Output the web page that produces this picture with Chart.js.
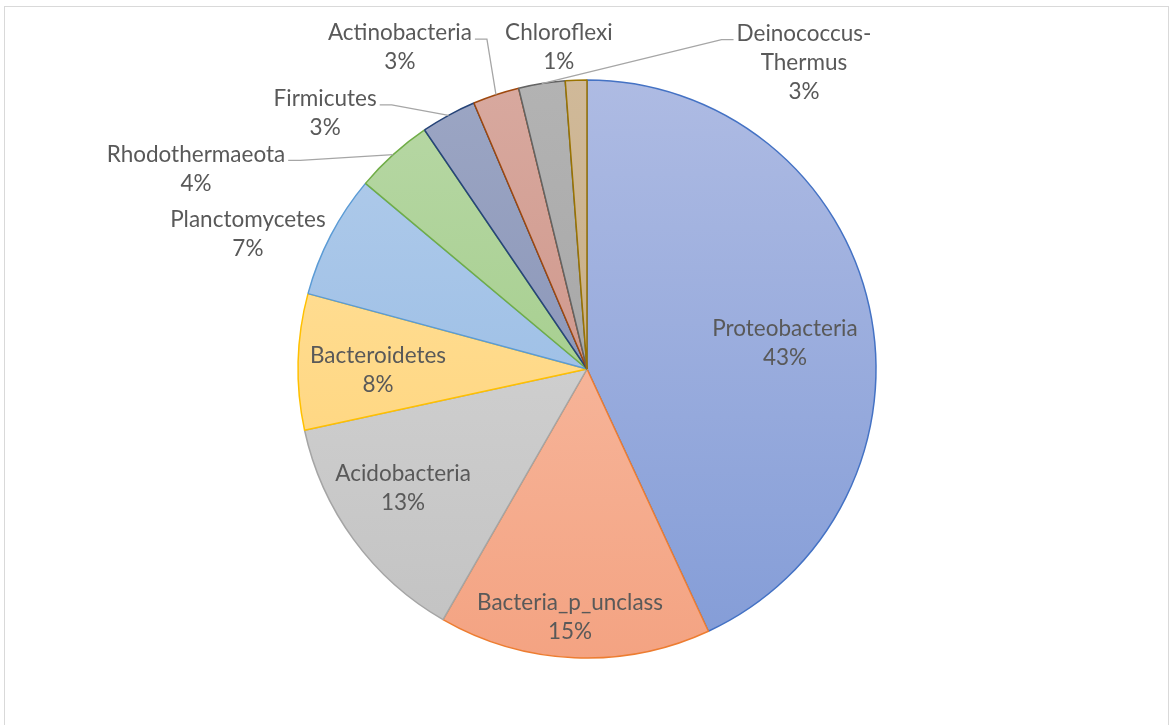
<!DOCTYPE html>
<html><head><meta charset="utf-8">
<script src="https://cdn.jsdelivr.net/npm/chart.js@4/dist/chart.umd.min.js"></script>
<style>
html,body{margin:0;padding:0;background:#fff;}
#wrap{position:relative;width:1169px;height:725px;overflow:hidden;background:#fff;}
#frame{position:absolute;left:4px;top:6px;width:1165px;height:730px;border:1.5px solid #d9d9d9;box-sizing:border-box;}
canvas{position:absolute;left:0;top:0;}
</style></head><body>
<div id="wrap"><div id="frame"></div><canvas id="c" width="1169" height="725"></canvas></div>
<script>
// ---- data ----
const categories = ['Proteobacteria','Bacteria_p_unclass','Acidobacteria','Bacteroidetes','Planctomycetes',
  'Rhodothermaeota','Firmicutes','Actinobacteria','Deinococcus-Thermus','Chloroflexi'];
const values = [43.1, 15.2, 13.3, 7.6, 6.9, 4.4, 3.1, 2.6, 2.6, 1.2];

// ---- styles ----
const borderColors = ['#4472c4','#ed7d31','#a5a5a5','#ffc000','#5b9bd5','#70ad47','#264478','#9e480e','#636363','#997300'];
const fillTop    = ['#aebbe3','#f8c4ae','#dadada','#ffe3a3','#b3cdeb','#b8d8a6','#9ca6c4','#d8a99f','#b3b3b3','#d0b999'];
const fillBottom = ['#839cd7','#f4a382','#c2c2c2','#ffd06f','#8db5e2','#98c77c','#7f8bb0','#c98a7c','#9d9d9d','#c2a778'];
// label placement (degrees clockwise from 12 o'clock, radius as fraction of pie radius)
const labelAngle  = [82.5, 183.9, 237.0, 269.6, 291.6, 297.1, 314.3, 329.8, 35.3, 355.0];
const labelRadius = [0.691, 0.862, 0.759, 0.723, 1.262, 1.52, 1.266, 1.287, 1.299, 1.117];
const leaderSide  = [null, null, null, null, null, 'right', 'right', 'right', 'left', null];

const FONT = '22.5px Lato';
const LINE_H = 29;
const TEXT_COLOR = '#595959';

const total = values.reduce((a,b)=>a+b,0);

const labelPlugin = {
  id: 'excelLabels',
  afterDatasetsDraw(chart) {
    const ctx = chart.ctx;
    const meta = chart.getDatasetMeta(0);
    ctx.save();
    ctx.font = FONT;
    ctx.fillStyle = TEXT_COLOR;
    ctx.textAlign = 'center';
    ctx.textBaseline = 'middle';
    meta.data.forEach((arc, i) => {
      const cx = arc.x, cy = arc.y, R = arc.outerRadius;
      const a = (labelAngle[i] - 90) * Math.PI / 180;
      const lx = cx + Math.cos(a) * R * labelRadius[i];
      const ly = cy + Math.sin(a) * R * labelRadius[i];
      let name = categories[i];
      let lines = name.includes('-') ? [name.slice(0, name.indexOf('-')+1), name.slice(name.indexOf('-')+1)] : [name];
      lines.push(Math.round(values[i] / total * 100) + '%');
      const top = ly - (lines.length - 1) * LINE_H / 2;
      lines.forEach((t, k) => ctx.fillText(t, lx, top + k * LINE_H));
      if (leaderSide[i]) {
        const w = ctx.measureText(lines[0]).width;
        const y0 = top + 6;
        const dir = leaderSide[i] === 'right' ? 1 : -1;
        const x0 = lx + dir * (w / 2 + 3);
        const x1 = x0 + dir * 12;
        const mid = (arc.startAngle + arc.endAngle) / 2;
        const ex = cx + Math.cos(mid) * R, ey = cy + Math.sin(mid) * R;
        ctx.beginPath();
        ctx.strokeStyle = '#a6a6a6';
        ctx.lineWidth = 1.3;
        ctx.moveTo(x0, y0); ctx.lineTo(x1, y0); ctx.lineTo(ex, ey);
        ctx.stroke();
      }
    });
    ctx.restore();
  }
};

function gradFill(context) {
  const i = context.dataIndex;
  const chart = context.chart;
  const area = chart.chartArea;
  if (!area) return fillBottom[i];
  const g = chart.ctx.createLinearGradient(0, area.top, 0, area.bottom);
  g.addColorStop(0, fillTop[i]);
  g.addColorStop(1, fillBottom[i]);
  return g;
}

new Chart(document.getElementById('c'), {
  type: 'pie',
  data: {
    labels: categories,
    datasets: [{
      data: values,
      backgroundColor: gradFill,
      borderColor: borderColors,
      borderWidth: 1.5
    }]
  },
  options: {
    responsive: false,
    animation: false,
    devicePixelRatio: 1,
    radius: 289,
    layout: { padding: { left: 297, right: 292, top: 79, bottom: 66 } },
    plugins: { legend: { display: false }, tooltip: { enabled: false } }
  },
  plugins: [labelPlugin]
});
</script>
</body></html>
